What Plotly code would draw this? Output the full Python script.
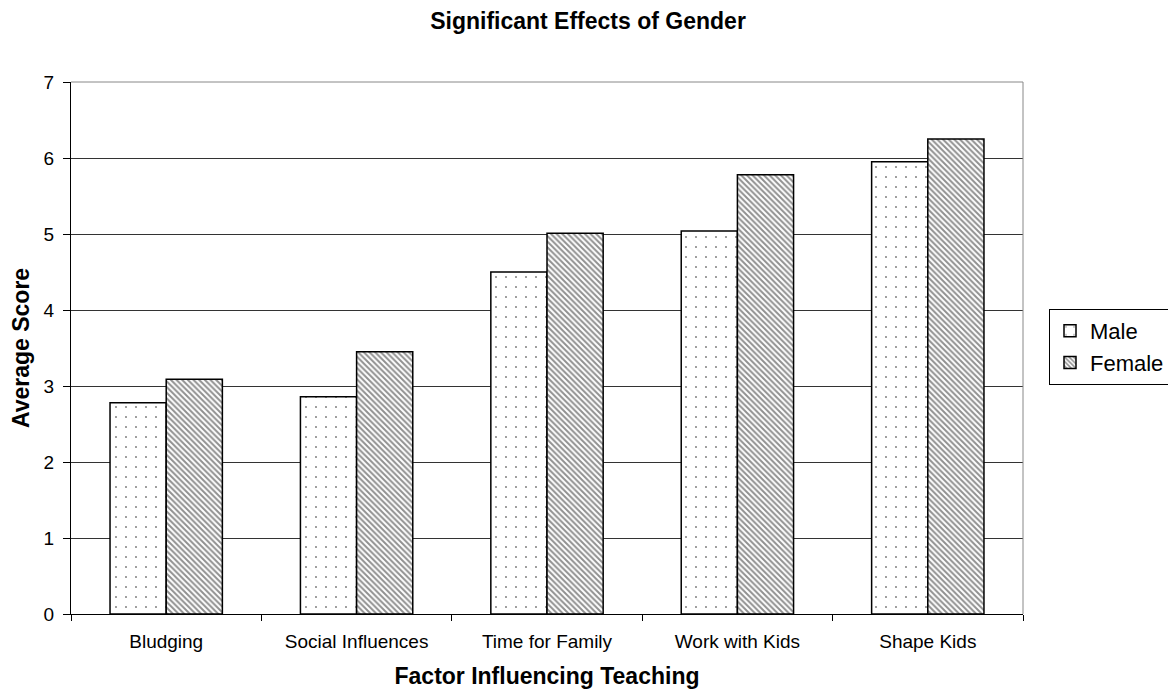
import plotly.graph_objects as go

categories = ["Bludging", "Social Influences", "Time for Family", "Work with Kids", "Shape Kids"]
male = [2.78, 2.86, 4.50, 5.04, 5.95]
female = [3.09, 3.45, 5.01, 5.78, 6.25]

W, H = 1168, 690

fig = go.Figure()
fig.add_trace(go.Bar(
    x=categories, y=male, name="Male",
    marker=dict(color="white", line=dict(color="black", width=1.5),
                pattern=dict(shape=".", fgcolor="black", bgcolor="white", size=10, solidity=0.03)),
))
fig.add_trace(go.Bar(
    x=categories, y=female, name="Female",
    marker=dict(color="white", line=dict(color="black", width=1.5),
                pattern=dict(shape="\\", fgcolor="#222222", bgcolor="white", size=4, solidity=0.5)),
))

fig.update_layout(
    width=W, height=H,
    paper_bgcolor="white", plot_bgcolor="white",
    margin=dict(l=63, r=153, t=74, b=84),
    barmode="group", bargap=0.41, bargroupgap=0,
    font=dict(family="Liberation Sans, Arial, sans-serif", size=19, color="black"),
    title=dict(text="<b>Significant Effects of Gender</b>", x=(588 - 8) / W, xanchor="center",
               y=1 - 13 / H, yanchor="middle", font=dict(size=23)),
    xaxis=dict(
        title=dict(text="<b>Factor Influencing Teaching</b>", font=dict(size=23), standoff=17),
        showline=True, linecolor="black", linewidth=1, mirror=False,
        ticks="outside", tickson="boundaries", ticklen=6, tickcolor="black",
        showgrid=False, tickfont=dict(size=19), ticklabelstandoff=10,
    ),
    yaxis=dict(
        title=dict(text="<b>Average Score</b>", font=dict(size=23), standoff=8),
        range=[0, 7], dtick=1,
        showline=True, linecolor="black", linewidth=1,
        ticks="outside", ticklen=7, tickcolor="black",
        showgrid=True, gridcolor="#333333", gridwidth=1,
        zeroline=False, tickfont=dict(size=19), ticklabelstandoff=5,
    ),
    legend=dict(
        xref="container", yref="container",
        x=(1170 - 8) / W, xanchor="right", y=1 - (347 - 8) / H, yanchor="middle",
        bordercolor="black", borderwidth=1, bgcolor="white",
        font=dict(size=22), itemwidth=30, tracegroupgap=0,
    ),
    shapes=[
        dict(type="line", xref="paper", yref="paper", x0=0, x1=1, y0=1, y1=1,
             line=dict(color="#888888", width=1)),
        dict(type="line", xref="paper", yref="paper", x0=1, x1=1, y0=0, y1=1,
             line=dict(color="#888888", width=1)),
    ],
)

fig.write_html("out.html")
